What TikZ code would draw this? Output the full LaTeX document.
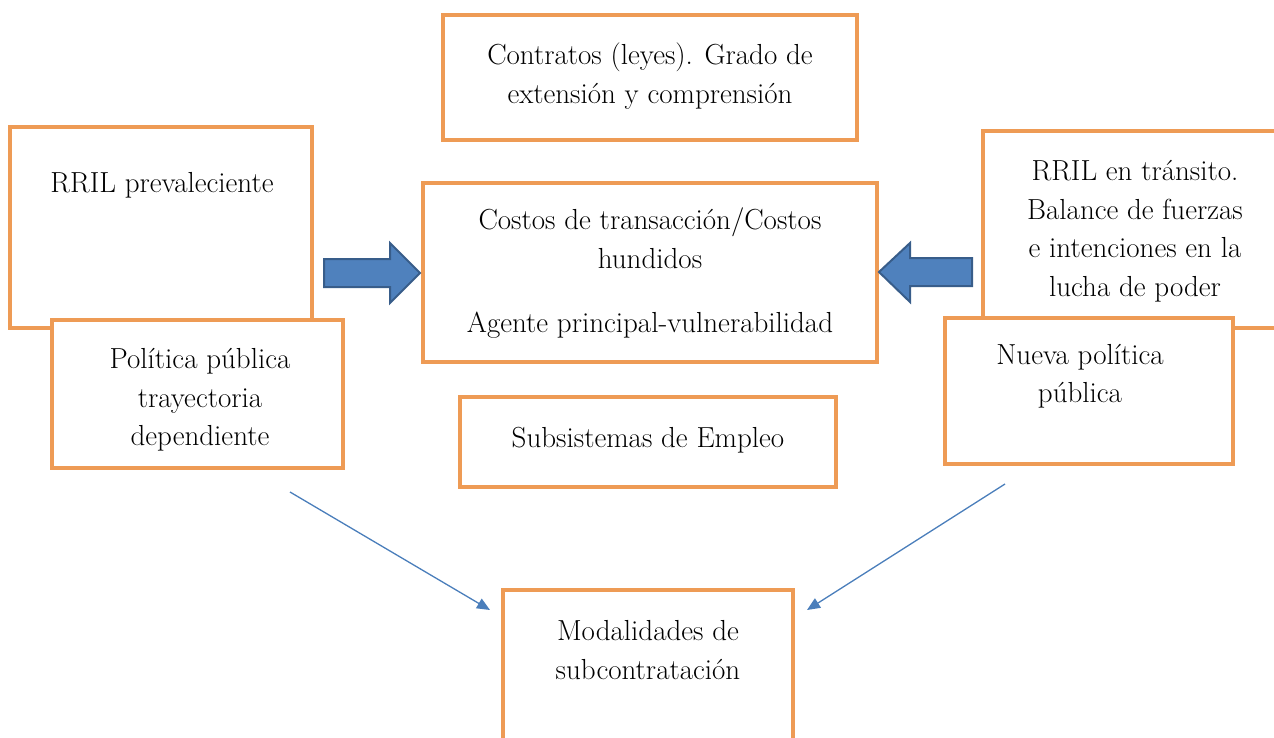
\documentclass[tikz,border=0pt]{standalone}
\usetikzlibrary{arrows.meta}
\definecolor{boxor}{HTML}{EE9B55}
\definecolor{arrfill}{HTML}{4F81BD}
\definecolor{arrline}{HTML}{385D8A}
\definecolor{thin}{HTML}{4A7EBB}
\begin{document}
\begin{tikzpicture}[x=1pt,y=-1pt,
  box/.style={draw=boxor,line width=4pt,fill=white,rectangle,inner sep=0pt},
  txt/.style={align=center,inner sep=0pt,font=\fontsize{29}{38.5}\selectfont},
  barrow/.style={draw=arrline,fill=arrfill,line width=2pt,line join=miter},
  conn/.style={draw=thin,line width=1.3pt,-{Triangle[length=13pt,width=11pt]}}]
\useasboundingbox (0,0) rectangle (1274,738);
\clip (0,0) rectangle (1274,738);
% boxes
\node[box,minimum width=414pt,minimum height=125pt] (contr) at (650,77.5) {};
\node[txt] (tcontr) at (650,76) {Contratos (leyes). Grado de\\extensión y comprensión};
\node[box,minimum width=302pt,minimum height=201pt] (rpre) at (161,227.5) {};
\node[txt] (trpre) at (162,185) {RRIL prevaleciente};
\node[box,minimum width=291pt,minimum height=148pt] (polp) at (197.5,394) {};
\node[txt] (tpolp) at (200,400) {Política pública\\trayectoria\\dependiente};
\node[box,minimum width=454pt,minimum height=179pt] (cost) at (650,272.5) {};
\node[txt] (tcost) at (650,273.5) {Costos de transacción/Costos\\hundidos\\[26pt]Agente principal-vulnerabilidad};
\node[box,minimum width=376pt,minimum height=90pt] (subs) at (648,442) {};
\node[txt] (tsubs) at (648,440) {Subsistemas de Empleo};
\node[box,minimum width=320pt,minimum height=197pt] (rtra) at (1143,229.5) {};
\node[txt] (trtra) at (1135,231) {RRIL en tránsito.\\Balance de fuerzas\\e intenciones en la\\lucha de poder};
\node[box,minimum width=288pt,minimum height=146pt] (nuev) at (1089,391) {};
\node[txt] (tnuev) at (1080,376) {Nueva política\\pública};
\node[box,minimum width=290pt,minimum height=200pt] (moda) at (648,690) {};
\node[txt] (tmoda) at (648,650) {Modalidades de\\subcontratación};
% block arrows
\draw[barrow] (324,259) -- (390,259) -- (390,243) -- (420,273) -- (390,303) -- (390,287) -- (324,287) -- cycle;
\draw[barrow] (972,258) -- (910,258) -- (910,243) -- (879,272) -- (910,302) -- (910,286) -- (972,286) -- cycle;
% thin connectors
\coordinate (s1) at (290,492);
\coordinate (s2) at (1005,484);
\draw[conn] (s1) -- ([shift={(-11,22)}]moda.north west);
\draw[conn] (s2) -- ([shift={(12,22)}]moda.north east);
\end{tikzpicture}
\end{document}
